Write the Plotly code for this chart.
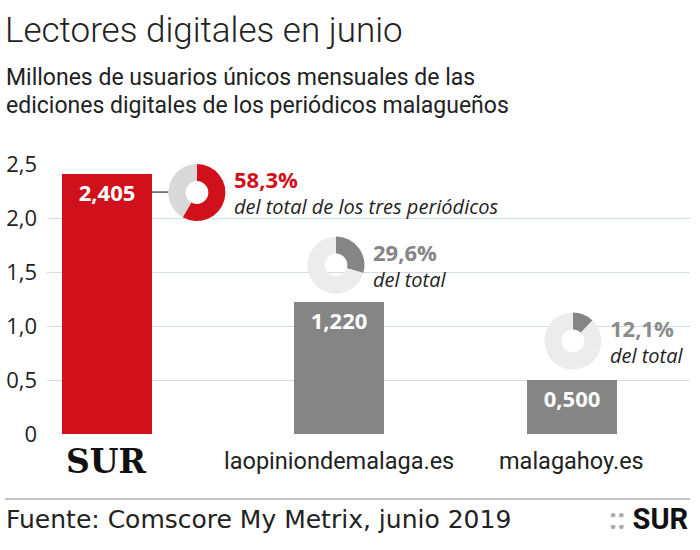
import plotly.graph_objects as go

# ---- data ----
categories = ["SUR", "laopiniondemalaga.es", "malagahoy.es"]
readers = [2.405, 1.220, 0.500]
value_labels = ["2,405", "1,220", "0,500"]
ytick_vals = [0, 0.5, 1.0, 1.5, 2.0, 2.5]
ytick_text = ["0", "0,5", "1,0", "1,5", "2,0", "2,5"]

title = "Lectores digitales en junio"
subtitle_1 = "Millones de usuarios únicos mensuales de las"
subtitle_2 = "ediciones digitales de los periódicos malagueños"
source = "Fuente: Comscore My Metrix, junio 2019"
share_texts = ["del total de los tres periódicos", "del total", "del total"]

# ---- layout constants ----
W, H = 700, 550
ML, MR, MT, MB = 47, 10, 164, 116
PW, PH = W - ML - MR, H - MT - MB
XR = [-0.258, 2.508]
YR = [0, 2.5]
RED = "#d0101a"
GRAY = "#858585"
BAR_W = 0.387
DONUT_R = 28.5  # px
donut_centers = [(0.387, 2.24), (0.985, 1.565), (2.004, 0.861)]
donut_bg = ["#d9d9d9", "#ececec", "#ececec"]
pct_colors = [RED, "#858585", "#8c8c8c"]
bar_colors = [RED, GRAY, GRAY]
FONT = "Roboto"

def fx(x):
    return (x - XR[0]) / (XR[1] - XR[0])

def fy(y):
    return (y - YR[0]) / (YR[1] - YR[0])

def px_x(p):
    return (p - ML) / PW

def px_y(p):
    return (H - MB - p) / PH

total = sum(readers)
shares = [v / total * 100 for v in readers]
share_labels = [f"{s:.1f}".replace(".", ",") + "%" for s in shares]

fig = go.Figure()
xs = list(range(len(categories)))
fig.add_trace(go.Bar(
    x=xs, y=readers, width=BAR_W, marker=dict(color=bar_colors, line=dict(width=0)),
    text=[f"<b>{t}</b>" for t in value_labels], textposition="inside",
    insidetextanchor="end", textangle=0,
    textfont=dict(family="Open Sans", size=22, color="white"),
    hoverinfo="skip", cliponaxis=False,
))

# donuts
for i, (cx, cy) in enumerate(donut_centers):
    dx = DONUT_R / PW
    dy = DONUT_R / PH
    x0, x1 = fx(cx) - dx, fx(cx) + dx
    y0, y1 = fy(cy) - dy, fy(cy) + dy
    if y1 > 1:
        y0 -= (y1 - 1)
        y1 = 1
    fig.add_trace(go.Pie(
        values=[shares[i], 100 - shares[i]],
        marker=dict(colors=[pct_colors[i] if i == 0 else GRAY, donut_bg[i]], line=dict(width=0)),
        hole=0.4, sort=False, direction="clockwise", rotation=0,
        textinfo="none", hoverinfo="skip", showlegend=False,
        domain=dict(x=[x0, x1], y=[y0, y1]),
    ))
    txt = (f"<span style='font-size:22px;color:{pct_colors[i]}'><b>{share_labels[i]}</b></span>"
           f"<br><i>{share_texts[i]}</i>")
    fig.add_annotation(x=cx, y=cy, xref="x", yref="y", xshift=DONUT_R + 7, yshift=0,
                       text=txt, showarrow=False, align="left",
                       xanchor="left", yanchor="middle",
                       font=dict(family="Open Sans", size=20, color="#222222"))

# connector from SUR bar to its donut
fig.add_shape(type="line", xref="x", yref="y",
              x0=xs[0] + BAR_W / 2, x1=donut_centers[0][0] - DONUT_R / PW * (XR[1] - XR[0]),
              y0=donut_centers[0][1], y1=donut_centers[0][1],
              line=dict(color="#555555", width=1.5), layer="below")

# category labels
for i, c in enumerate(categories):
    if i == 0:
        txt = f"<b>{c}</b>"
        f = dict(family="DejaVu Serif", size=33, color="#111111")
    else:
        txt = c
        f = dict(family=FONT, size=23.5, color="#222222")
    fig.add_annotation(x=xs[i], y=px_y(461), xref="x", yref="paper", text=txt,
                       showarrow=False, xanchor="center", yanchor="middle", font=f)

# titles
fig.add_annotation(x=px_x(3), y=px_y(31), xref="paper", yref="paper", text=title,
                   showarrow=False, xanchor="left", yanchor="middle",
                   font=dict(family=FONT, size=35, color="#222222", weight=300))
fig.add_annotation(x=px_x(4), y=px_y(77), xref="paper", yref="paper", text=subtitle_1,
                   showarrow=False, xanchor="left", yanchor="middle",
                   font=dict(family=FONT, size=23, color="#222222"))
fig.add_annotation(x=px_x(4), y=px_y(105), xref="paper", yref="paper", text=subtitle_2,
                   showarrow=False, xanchor="left", yanchor="middle",
                   font=dict(family=FONT, size=23, color="#222222"))

# footer
fig.add_shape(type="line", xref="paper", yref="paper", x0=px_x(5), x1=px_x(690),
              y0=px_y(499), y1=px_y(499), line=dict(color="#888888", width=1))
fig.add_annotation(x=px_x(4), y=px_y(519), xref="paper", yref="paper", text=source,
                   showarrow=False, xanchor="left", yanchor="middle",
                   font=dict(family="DejaVu Sans", size=25, color="#222222"))
fig.add_annotation(x=px_x(690), y=px_y(519), xref="paper", yref="paper",
                   text="<span style='color:#aaaaaa'><b>::</b></span> <b>SUR</b>",
                   showarrow=False, xanchor="right", yanchor="middle",
                   font=dict(family="Roboto", size=29, color="#111111"))

fig.update_layout(
    width=W, height=H, margin=dict(l=ML, r=MR, t=MT, b=MB, pad=0, autoexpand=False),
    paper_bgcolor="white", plot_bgcolor="white", showlegend=False,
    bargap=0,
    xaxis=dict(range=XR, showgrid=False, zeroline=False, showticklabels=False,
               showline=False, fixedrange=True, automargin=False),
    yaxis=dict(range=YR, tickvals=ytick_vals, ticktext=ytick_text, showgrid=True,
               gridcolor="#d5dce3", gridwidth=1, zeroline=False, showline=False,
               ticks="", ticklabelstandoff=9, automargin=False,
               tickfont=dict(family="Open Sans", size=22, color="#222222")),
)

fig.write_html("out.html")
